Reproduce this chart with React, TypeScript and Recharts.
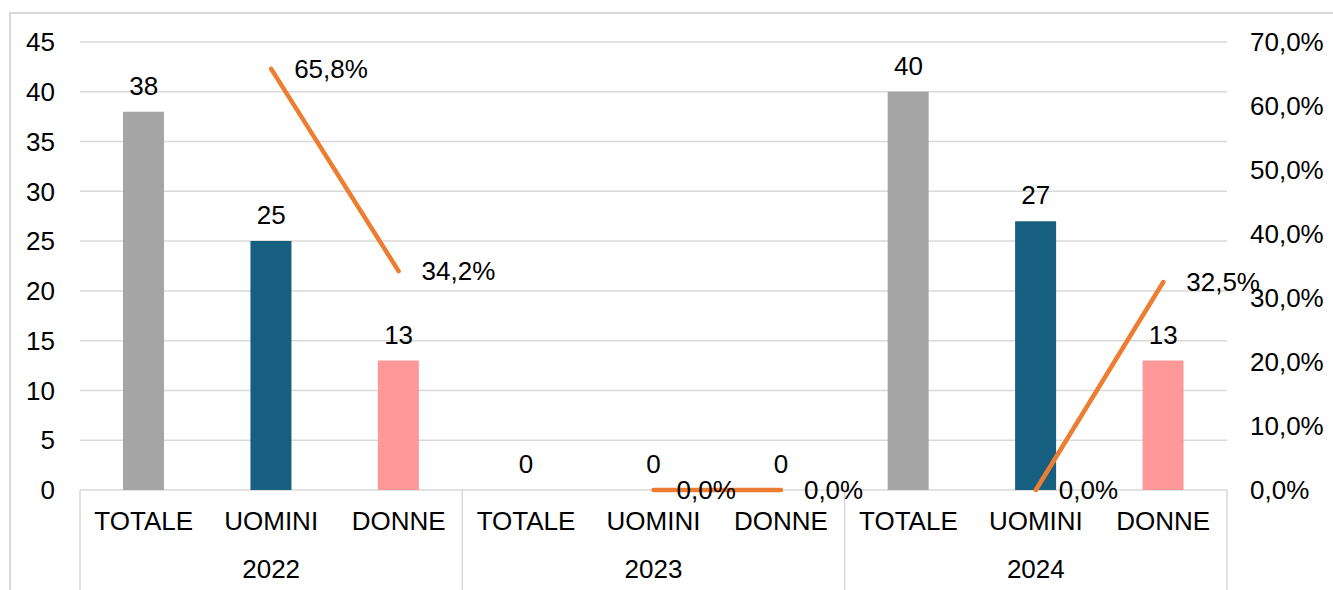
import {
  Bar,
  CartesianGrid,
  Cell,
  ComposedChart,
  LabelList,
  Line,
  XAxis,
  YAxis,
} from "recharts";

const YEARS = ["2022", "2023", "2024"];
const GROUPS = ["TOTALE", "UOMINI", "DONNE"];
const COUNTS = [38, 25, 13, 0, 0, 0, 40, 27, 13];
const SHARES: (number | null)[] = [null, 65.8, 34.2, null, 0, 0, null, 0, 32.5];
const LEFT_TICKS = [0, 5, 10, 15, 20, 25, 30, 35, 40, 45];
const RIGHT_TICKS = [0, 10, 20, 30, 40, 50, 60, 70];

const GROUP_COLORS: Record<string, string> = {
  TOTALE: "#A5A5A5",
  UOMINI: "#175F80",
  DONNE: "#FF9999",
};

const W = 1333;
const H = 590;
const FONT = 26;
const GRID = "#D9D9D9";

const data = YEARS.flatMap((year, yi) =>
  GROUPS.map((cat, gi) => ({
    year,
    cat,
    count: COUNTS[yi * 3 + gi],
    share: SHARES[yi * 3 + gi],
  }))
);

const pct = (v: number) => `${v.toFixed(1).replace(".", ",")}%`;

function CatTick(props: any) {
  const { x, y, payload } = props;
  return (
    <text x={x} y={y + 32} textAnchor="middle" fontSize={FONT} fill="#000">
      {payload.value}
    </text>
  );
}

function YearTick(props: any) {
  const { x, y, payload, index } = props;
  const half = payload.offset || (1227 - 80) / 6;
  return (
    <g>
      <line x1={x - half} x2={x - half} y1={y - 58} y2={H} stroke={GRID} strokeWidth={1.5} />
      {index === YEARS.length - 1 && (
        <line x1={x + half} x2={x + half} y1={y - 58} y2={H} stroke={GRID} strokeWidth={1.5} />
      )}
      <text x={x} y={y + 30} textAnchor="middle" fontSize={FONT} fill="#000">
        {payload.value}
      </text>
    </g>
  );
}

export default function App() {
  return (
    <div
      style={{
        position: "absolute",
        left: 0,
        top: 0,
        width: W,
        height: H,
        overflow: "hidden",
        background: "#fff",
        fontFamily: "'Liberation Sans', Arial, sans-serif",
      }}
    >
      <div
        style={{
          position: "absolute",
          left: 9,
          top: 12,
          width: 1500,
          height: 800,
          border: `2px solid ${GRID}`,
          boxSizing: "border-box",
        }}
      />
      <ComposedChart
        width={W}
        height={H}
        data={data}
        margin={{ top: 42, right: 0, left: 0, bottom: 0 }}
        style={{ position: "absolute", left: 0, top: 0 }}
      >
        {/* the 0 gridline doubles as the category axis line */}
        <CartesianGrid
          xAxisId="cat"
          yAxisId="left"
          vertical={false}
          stroke={GRID}
          strokeWidth={1.5}
        />
        <XAxis
          xAxisId="cat"
          dataKey="cat"
          height={50}
          tickLine={false}
          axisLine={false}
          tick={<CatTick />}
          interval={0}
        />
        <XAxis
          xAxisId="year"
          dataKey="year"
          allowDuplicatedCategory={false}
          height={50}
          tickLine={false}
          axisLine={false}
          tick={<YearTick />}
          interval={0}
        />
        <YAxis
          yAxisId="left"
          orientation="left"
          width={80}
          domain={[0, 45]}
          ticks={LEFT_TICKS}
          tickLine={false}
          axisLine={false}
          tickMargin={19}
          tick={{ fontSize: FONT, fill: "#000" }}
        />
        <YAxis
          yAxisId="right"
          orientation="right"
          width={106}
          domain={[0, 70]}
          ticks={RIGHT_TICKS}
          tickLine={false}
          axisLine={false}
          tickMargin={17}
          tickFormatter={pct}
          tick={{ fontSize: FONT, fill: "#000" }}
        />
        <Bar
          xAxisId="cat"
          yAxisId="left"
          dataKey="count"
          barSize={41}
          isAnimationActive={false}
        >
          {data.map((d, i) => (
            <Cell key={i} fill={GROUP_COLORS[d.cat]} />
          ))}
        </Bar>
        {/* invisible carrier for the count labels, so zero bars get a "0" too */}
        <Line
          xAxisId="cat"
          yAxisId="left"
          dataKey="count"
          stroke="none"
          dot={false}
          activeDot={false}
          legendType="none"
          isAnimationActive={false}
        >
          <LabelList dataKey="count" position="top" offset={17} fontSize={FONT} fill="#000" />
        </Line>
        <Line
          xAxisId="cat"
          yAxisId="right"
          dataKey="share"
          stroke="#ED7D31"
          strokeWidth={4.5}
          strokeLinecap="round"
          dot={false}
          activeDot={false}
          isAnimationActive={false}
        >
          <LabelList
            dataKey="share"
            position="right"
            offset={23}
            fontSize={FONT}
            fill="#000"
            formatter={(v: any) => (v == null ? "" : pct(v))}
          />
        </Line>
      </ComposedChart>
    </div>
  );
}
